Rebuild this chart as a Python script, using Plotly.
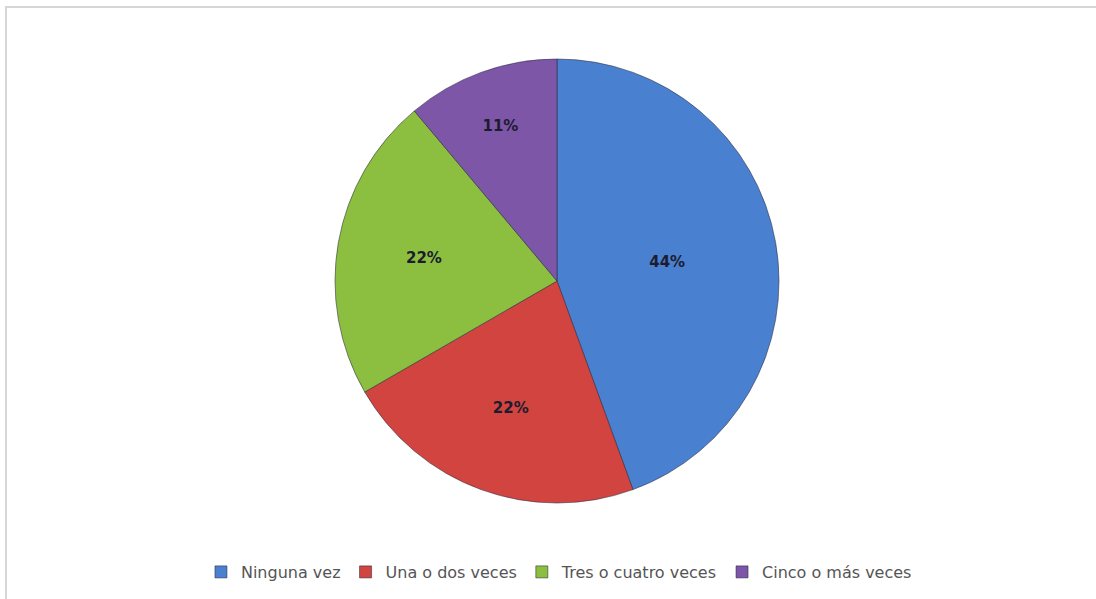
import plotly.graph_objects as go

# Survey answers and their counts
categories = ["Ninguna vez", "Una o dos veces", "Tres o cuatro veces", "Cinco o más veces"]
counts = [4, 2, 2, 1]
colors = ["#4A80D0", "#D2443F", "#8CBF3F", "#7E56A8"]

W, H = 1096, 599
cx, cy, diam = 557, 281, 444

fig = go.Figure(
    go.Pie(
        labels=categories,
        values=counts,
        sort=False,
        direction="clockwise",
        rotation=0,
        marker=dict(colors=colors, line=dict(color="rgba(40,40,60,0.55)", width=1)),
        textinfo="percent",
        texttemplate="%{percent:.0%}",
        textposition="inside",
        insidetextorientation="horizontal",
        textfont=dict(family="DejaVu Sans", size=15, color="#1c1c30", weight="bold"),
        domain=dict(
            x=[(cx - 300) / W, (cx + 300) / W],
            y=[1 - (cy + diam / 2) / H, 1 - (cy - diam / 2) / H],
        ),
        hoverinfo="label+percent",
    )
)

fig.update_layout(
    width=W,
    height=H,
    margin=dict(l=0, r=0, t=0, b=0),
    paper_bgcolor="white",
    plot_bgcolor="white",
    showlegend=True,
    legend=dict(
        orientation="h",
        x=0.51,
        xanchor="center",
        y=1 - 572 / H,
        yanchor="middle",
        font=dict(family="DejaVu Sans", size=16, color="#555555"),
        itemwidth=30,
        traceorder="normal",
    ),
    shapes=[
        dict(
            type="rect",
            xref="paper",
            yref="paper",
            x0=6 / W,
            x1=1.01,
            y0=-0.01,
            y1=1 - 7 / H,
            line=dict(color="#d6d6d6", width=2),
            fillcolor="rgba(0,0,0,0)",
        )
    ],
)

fig.write_html("out.html")
